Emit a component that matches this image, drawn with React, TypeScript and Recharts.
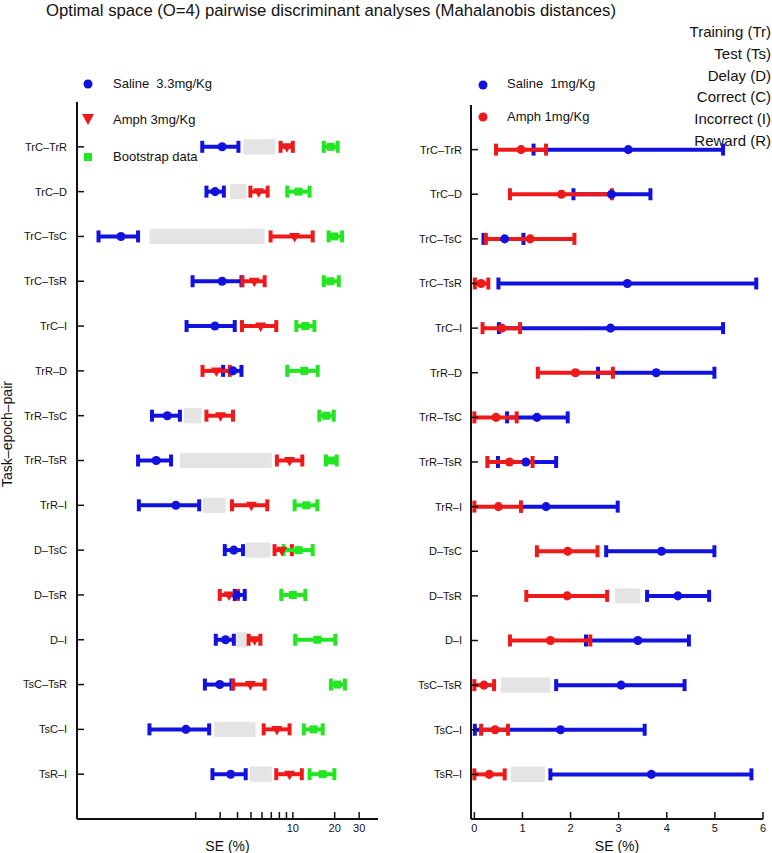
import React from 'react';
import {
  ComposedChart,
  Scatter,
  ErrorBar,
  XAxis,
  YAxis,
  ReferenceArea,
} from 'recharts';

const pairs = [
  'TrC–TrR', 'TrC–D', 'TrC–TsC', 'TrC–TsR', 'TrC–I', 'TrR–D', 'TrR–TsC', 'TrR–TsR',
  'TrR–I', 'D–TsC', 'D–TsR', 'D–I', 'TsC–TsR', 'TsC–I', 'TsR–I',
];

// left panel: saline 3.3 vs amph 3 (SE %, log axis)
const saline33Mean = [3.1, 2.76, 0.58, 3.1, 2.75, 3.71, 1.25, 1.04, 1.44, 3.76, 3.93, 3.28, 2.98, 1.7, 3.57];
const saline33Low = [2.23, 2.39, 0.4, 1.9, 1.72, 3.15, 0.97, 0.77, 0.78, 3.24, 3.82, 2.79, 2.33, 0.93, 2.64];
const saline33High = [4.06, 3.19, 0.77, 4.27, 3.82, 4.27, 1.54, 1.33, 2.12, 4.38, 4.51, 3.76, 3.62, 2.5, 4.58];
const amph3Mean = [9.06, 5.68, 10.3, 5.29, 5.87, 2.82, 3.02, 9.47, 5.03, 8.34, 3.48, 5.31, 4.95, 7.68, 9.47];
const amph3Low = [8.16, 4.95, 6.92, 4.34, 4.31, 2.24, 2.39, 7.68, 3.65, 7.39, 2.98, 4.81, 3.71, 6.17, 7.6];
const amph3High = [10.0, 6.59, 13.9, 6.27, 7.6, 3.52, 3.71, 11.7, 6.55, 9.84, 4.03, 5.84, 6.27, 9.47, 11.6];
const bootMean = [18.7, 11.0, 19.9, 18.6, 12.3, 12.1, 17.4, 18.9, 12.5, 11.0, 10.0, 15.0, 21.0, 14.1, 16.4];
const bootLow = [16.7, 9.12, 18.1, 16.7, 10.6, 9.12, 15.5, 17.3, 10.3, 8.58, 8.26, 10.4, 18.8, 12.0, 13.2];
const bootHigh = [21.0, 13.2, 22.6, 21.4, 14.3, 15.1, 19.7, 20.7, 15.0, 13.9, 12.3, 20.2, 23.7, 16.4, 19.9];
const gapLeftFrom = [4.41, 3.54, 0.93, null, null, null, 1.65, 1.54, 2.26, 4.56, null, 3.86, null, 2.72, 4.9];
const gapLeftTo = [7.52, 4.64, 6.27, null, null, null, 2.2, 7.07, 3.28, 6.92, null, 4.71, null, 5.4, 7.07];

// right panel: saline 1 vs amph 1 (SE %, linear axis)
const saline1Mean = [3.2, 2.85, 0.63, 3.18, 2.83, 3.78, 1.3, 1.07, 1.49, 3.89, 4.23, 3.4, 3.05, 1.79, 3.68];
const saline1Low = [1.23, 2.06, 0.19, 0.5, 0.51, 2.57, 0.68, 0.49, 0.97, 2.74, 3.59, 2.32, 1.7, 0.01, 1.58];
const saline1High = [5.17, 3.66, 1.02, 5.86, 5.17, 4.99, 1.94, 1.7, 2.98, 4.99, 4.88, 4.46, 4.37, 3.54, 5.76];
const amph1Mean = [0.97, 1.81, 1.16, 0.14, 0.57, 2.1, 0.45, 0.73, 0.5, 1.94, 1.93, 1.58, 0.2, 0.43, 0.31];
const amph1Low = [0.45, 0.74, 0.24, 0.01, 0.17, 1.32, 0.0, 0.27, 0.0, 1.3, 1.08, 0.74, 0.0, 0.14, 0.0];
const amph1High = [1.49, 2.86, 2.08, 0.29, 0.95, 2.88, 0.88, 1.21, 0.97, 2.56, 2.76, 2.41, 0.41, 0.7, 0.63];
const gapRightFrom = [null, null, null, null, null, null, null, null, null, null, 2.92, null, 0.55, null, 0.76];
const gapRightTo = [null, null, null, null, null, null, null, null, null, null, 3.45, null, 1.58, null, 1.47];

const logTicks = [2, 3, 4, 5, 6, 7, 8, 9, 10, 20, 30];
const linTicks = [0, 1, 2, 3, 4, 5, 6];
const abbreviations = [
  'Training (Tr)', 'Test (Ts)', 'Delay (D)', 'Correct (C)', 'Incorrect (I)', 'Reward (R)',
];

const colors = {
  saline: '#1212de',
  amph: '#ee1a1a',
  boot: '#22e622',
  gap: '#e4e4e4',
  axis: '#111',
};

const FONT = '"Liberation Sans", Arial, Helvetica, sans-serif';
const rowTicks = pairs.map((_, i) => i + 1);

const buildRows = (mean: number[], low: number[], high: number[]) =>
  pairs.map((pair, i) => ({
    pair,
    row: i + 1,
    se: mean[i],
    err: [mean[i] - low[i], high[i] - mean[i]],
  }));

const buildGaps = (from: (number | null)[], to: (number | null)[]) =>
  pairs
    .map((pair, i) => ({ pair, row: i + 1, from: from[i], to: to[i] }))
    .filter((g) => g.from != null && g.to != null);

const DownTriangle = (props: any) => {
  const { cx, cy, fill } = props;
  if (cx == null || cy == null) return null;
  return (
    <polygon
      points={`${cx - 5.5},${cy - 3.5} ${cx + 5.5},${cy - 3.5} ${cx},${cy + 6}`}
      fill={fill}
    />
  );
};

const tickStyle = { fontSize: 11, fill: colors.axis, fontFamily: FONT };
const axisLine = { stroke: colors.axis, strokeWidth: 2 };
const tickLine = { stroke: colors.axis, strokeWidth: 1.5 };

function Panel({
  width,
  top,
  right,
  domain,
  scale,
  ticks,
  tickFormatter,
  gaps,
  series,
  yTickMargin,
}: {
  width: number;
  top: number;
  right: number;
  domain: [number, number];
  scale: 'log' | 'linear';
  ticks: number[];
  tickFormatter: (v: number) => string;
  gaps: { row: number; from: number | null; to: number | null }[];
  series: { name: string; data: any[]; color: string; shape: any }[];
  yTickMargin: number;
}) {
  return (
    <ComposedChart
      width={width}
      height={853}
      margin={{ top, right, bottom: 0, left: 0 }}
    >
      <XAxis
        type="number"
        dataKey="se"
        scale={scale}
        domain={domain}
        allowDataOverflow
        ticks={ticks}
        interval={0}
        tickFormatter={tickFormatter}
        tick={tickStyle}
        tickSize={-7}
        tickMargin={12}
        axisLine={axisLine}
        tickLine={tickLine}
        height={34}
        label={{
          value: 'SE (%)',
          position: 'insideBottom',
          offset: 2,
          style: { fontSize: 14, fill: colors.axis, fontFamily: FONT },
        }}
      />
      <YAxis
        type="number"
        dataKey="row"
        domain={[0, 16]}
        reversed
        ticks={rowTicks}
        interval={0}
        tickFormatter={(v: number) => pairs[v - 1] ?? ''}
        tick={tickStyle}
        tickSize={-7}
        tickMargin={yTickMargin}
        axisLine={axisLine}
        tickLine={tickLine}
        width={width === 380 ? 77 : 81}
      />
      {gaps.map((g) => (
        <ReferenceArea
          key={`gap-${g.row}`}
          x1={g.from as number}
          x2={g.to as number}
          y1={g.row - 0.17}
          y2={g.row + 0.17}
          fill={colors.gap}
          fillOpacity={1}
          stroke="none"
          ifOverflow="visible"
        />
      ))}
      {series.map((s) => (
        <Scatter
          key={s.name}
          name={s.name}
          data={s.data}
          dataKey="se"
          fill={s.color}
          shape={s.shape}
          isAnimationActive={false}
        >
          <ErrorBar
            dataKey="err"
            direction="x"
            width={6}
            stroke={s.color}
            strokeWidth={4}
            isAnimationActive={false}
          />
        </Scatter>
      ))}
    </ComposedChart>
  );
}

export default function App() {
  const leftSeries = [
    { name: 'Saline 3.3mg/Kg', data: buildRows(saline33Mean, saline33Low, saline33High), color: colors.saline, shape: 'circle' },
    { name: 'Amph 3mg/Kg', data: buildRows(amph3Mean, amph3Low, amph3High), color: colors.amph, shape: DownTriangle },
    { name: 'Bootstrap data', data: buildRows(bootMean, bootLow, bootHigh), color: colors.boot, shape: 'square' },
  ];
  const rightSeries = [
    { name: 'Saline 1mg/Kg', data: buildRows(saline1Mean, saline1Low, saline1High), color: colors.saline, shape: 'circle' },
    { name: 'Amph 1mg/Kg', data: buildRows(amph1Mean, amph1Low, amph1High), color: colors.amph, shape: 'circle' },
  ];

  const legendText: React.CSSProperties = {
    position: 'absolute',
    fontSize: 13,
    fontFamily: FONT,
    color: colors.axis,
    whiteSpace: 'pre',
    lineHeight: '16px',
  };

  return (
    <div
      style={{
        position: 'absolute',
        left: 0,
        top: 0,
        width: 772,
        height: 853,
        background: '#fff',
        overflow: 'hidden',
        fontFamily: FONT,
      }}
    >
      <div
        style={{
          position: 'absolute',
          left: 46,
          top: 1,
          fontSize: 16.7,
          color: colors.axis,
          whiteSpace: 'nowrap',
          lineHeight: '20px',
        }}
      >
        Optimal space (O=4) pairwise discriminant analyses (Mahalanobis distances)
      </div>

      {abbreviations.map((a, i) => (
        <div
          key={a}
          style={{
            position: 'absolute',
            right: 1,
            top: 23 + i * 21.8,
            fontSize: 15,
            lineHeight: '18px',
            color: colors.axis,
            textAlign: 'right',
            whiteSpace: 'nowrap',
          }}
        >
          {a}
        </div>
      ))}

      {/* legends */}
      <svg style={{ position: 'absolute', left: 0, top: 0 }} width={772} height={170}>
        <circle cx={88} cy={84} r={4.5} fill={colors.saline} />
        <polygon points="82,114 94,114 88,125" fill={colors.amph} />
        <rect x={84} y={153} width={8} height={8} fill={colors.boot} />
        <circle cx={483} cy={85} r={4.5} fill={colors.saline} />
        <circle cx={483} cy={117} r={4.5} fill={colors.amph} />
      </svg>
      <div style={{ ...legendText, left: 113, top: 76 }}>{'Saline  3.3mg/Kg'}</div>
      <div style={{ ...legendText, left: 113, top: 112 }}>Amph 3mg/Kg</div>
      <div style={{ ...legendText, left: 113, top: 149 }}>Bootstrap data</div>
      <div style={{ ...legendText, left: 507, top: 76 }}>{'Saline  1mg/Kg'}</div>
      <div style={{ ...legendText, left: 507, top: 109 }}>Amph 1mg/Kg</div>

      <div
        style={{
          position: 'absolute',
          left: -68,
          top: 426,
          width: 150,
          textAlign: 'center',
          fontSize: 14,
          color: colors.axis,
          transform: 'rotate(-90deg)',
          whiteSpace: 'nowrap',
        }}
      >
        Task–epoch–pair
      </div>

      <div style={{ position: 'absolute', left: 0, top: 0 }}>
        <Panel
          width={380}
          top={102}
          right={2}
          domain={[0.28, 41]}
          scale="log"
          ticks={logTicks}
          tickFormatter={(v) => (v >= 10 ? String(v) : '')}
          gaps={buildGaps(gapLeftFrom, gapLeftTo)}
          series={leftSeries}
          yTickMargin={17}
        />
      </div>
      <div style={{ position: 'absolute', left: 390, top: 0 }}>
        <Panel
          width={382}
          top={105}
          right={9}
          domain={[-0.07, 6]}
          scale="linear"
          ticks={linTicks}
          tickFormatter={(v) => String(v)}
          gaps={buildGaps(gapRightFrom, gapRightTo)}
          series={rightSeries}
          yTickMargin={16}
        />
      </div>
    </div>
  );
}
